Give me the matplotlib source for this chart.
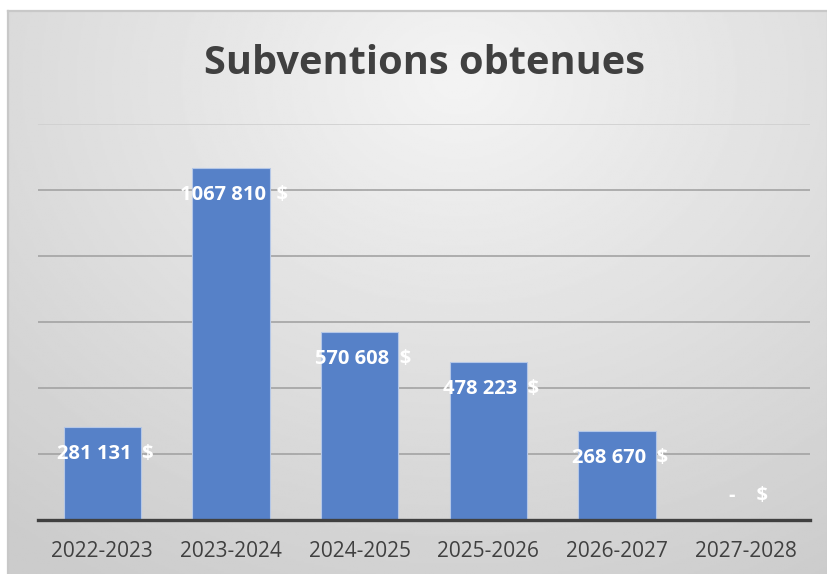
import matplotlib
matplotlib.use("Agg")
import matplotlib.pyplot as plt
import numpy as np

plt.rcParams['font.family'] = ['Open Sans', 'DejaVu Sans']

# données
periodes = ["2022-2023", "2023-2024", "2024-2025", "2025-2026", "2026-2027", "2027-2028"]
montants = [281131, 1067810, 570608, 478223, 268670, 0]
graduations = [0, 200000, 400000, 600000, 800000, 1000000, 1200000]


def format_montant(v):
    # format comptable : espace seulement avant les 3 derniers chiffres
    if v == 0:
        return "-    $"
    s = str(v)
    return s[:-3] + " " + s[-3:] + "  $"


W, H = 828, 574
fig = plt.figure(figsize=(W / 100, H / 100), dpi=100)
fig.patch.set_facecolor("white")

# fond dégradé de la zone de graphique
bg = fig.add_axes([8 / W, -0.02, (W - 8) / W, 1 - 11 / H + 0.02], zorder=0)
yy, xx = np.mgrid[0:1:300j, 0:1:400j]
r = np.sqrt(((xx - 0.55) / 0.95) ** 2 + ((yy - 0.12) / 1.1) ** 2)
grad = np.clip(0.955 - 0.17 * r, 0.80, 0.96)
bg.imshow(grad, cmap="gray", vmin=0, vmax=1, aspect="auto", extent=[0, 1, 1, 0])
bg.set_xticks([])
bg.set_yticks([])
for s in bg.spines.values():
    s.set_color("#C8C8C8")
    s.set_linewidth(1.6)

ax = fig.add_axes([38 / W, 1 - 520 / H, (810 - 38) / W, (520 - 124) / H], zorder=1)
ax.patch.set_alpha(0)

x = np.arange(len(periodes))
bars = ax.bar(x, montants, width=0.6, color="#5681C8", edgecolor="#B4C7E7",
              linewidth=0.8, zorder=3)

ax.set_xlim(-0.5, len(periodes) - 0.5)
ax.set_ylim(0, graduations[-1])
ax.set_yticks(graduations)
ax.yaxis.grid(True, color="#A3A3A3", linewidth=1.2, zorder=1)
ax.get_ygridlines()[-1].set_color("#CFCFCF")
ax.set_axisbelow(True)
ax.tick_params(axis="y", left=False, labelleft=False)
ax.set_xticks(x)
ax.set_xticklabels(periodes, fontsize=15, color="#404040")
ax.tick_params(axis="x", length=0, pad=15)
for s in ["top", "right", "left"]:
    ax.spines[s].set_visible(False)
ax.spines["bottom"].set_color("#404040")
ax.spines["bottom"].set_linewidth(2.4)
ax.spines["bottom"].set_zorder(4)

# étiquettes de données
for xi, v in zip(x, montants):
    dy = -27 if v > 0 else 24
    ax.annotate(format_montant(v), (xi, v), xytext=(3, dy), textcoords="offset pixels",
                ha="center", va="center", color="white", fontsize=14.5,
                fontweight="bold", zorder=5)

fig.text(424 / W, 1 - 63 / H, "Subventions obtenues", ha="center", va="center",
         fontsize=28.6, fontweight="bold", color="#404040")

fig.savefig("out.png", dpi=100)
